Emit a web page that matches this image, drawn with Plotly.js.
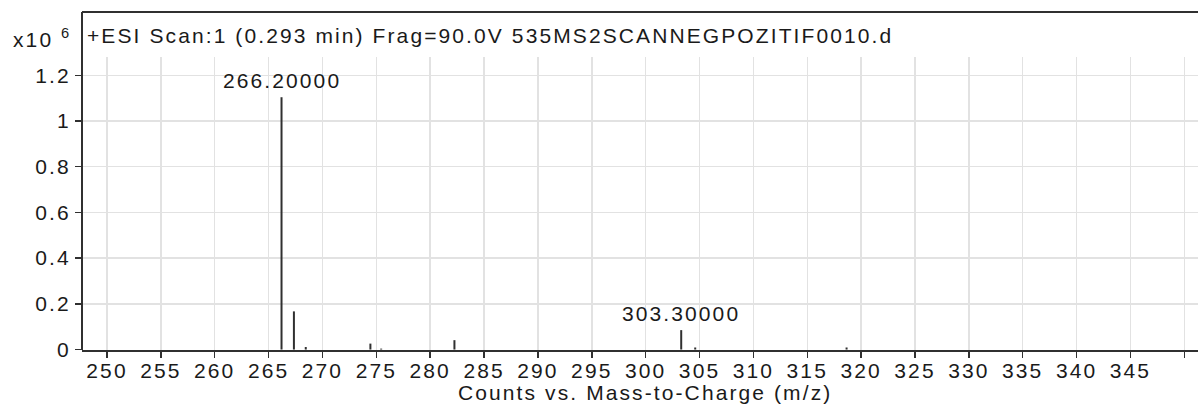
<!DOCTYPE html>
<html>
<head>
<meta charset="utf-8">
<script src="https://cdn.plot.ly/plotly-3.0.1.min.js"></script>
<style>
  html, body { margin: 0; padding: 0; background: #ffffff; }
  #chart { width: 1198px; height: 405px; }
  svg text { letter-spacing: 2.1px; }
</style>
</head>
<body>
<div id="chart"></div>
<script>
// m/z of each centroid peak
const mzValues = [266.2, 267.35, 268.45, 274.45, 275.45, 282.25, 303.3, 304.6, 318.65];
// abundance in counts x 10^6
const countValues = [1.104, 0.167, 0.011, 0.026, 0.004, 0.041, 0.085, 0.009, 0.009];
// labelled peaks
const labelledMz = [266.2, 303.3];
const labelledCounts = [1.104, 0.085];
const labelTexts = ["266.20000", "303.30000"];
// axis ticks
const xTickValues = [250, 255, 260, 265, 270, 275, 280, 285, 290, 295, 300, 305, 310, 315, 320, 325, 330, 335, 340, 345];
const xTickLabels = ["250", "255", "260", "265", "270", "275", "280", "285", "290", "295", "300", "305", "310", "315", "320", "325", "330", "335", "340", "345"];
const xUnlabelledTicks = [350];
const yTickValues = [0, 0.2, 0.4, 0.6, 0.8, 1, 1.2];
const yTickLabels = ["0", "0.2", "0.4", "0.6", "0.8", "1", "1.2"];
const chartTitle = "+ESI Scan:1 (0.293 min) Frag=90.0V 535MS2SCANNEGPOZITIF0010.d";
const xTitle = "Counts vs. Mass-to-Charge (m/z)";
const yScaleText = "x10 <sup>6</sup>";

const FONT = "Liberation Sans, Arial, sans-serif";
const FS = 21;
const TXT = "#1a1a1a";
const LINE = "#303030";
const GRID = "#e2e2e2";

// build stick segments
const sx = [], sy = [];
mzValues.forEach((m, i) => { sx.push(m, m, null); sy.push(0, countValues[i], null); });

const traces = [{
  type: "scatter", mode: "lines", x: sx, y: sy,
  line: { color: LINE, width: 2 }, hoverinfo: "skip", showlegend: false, cliponaxis: false
}];

const annotations = labelledMz.map((m, i) => ({
  x: m, y: labelledCounts[i], xref: "x", yref: "y",
  text: labelTexts[i], showarrow: false, xanchor: "center", yanchor: "bottom", yshift: 3,
  font: { family: FONT, size: FS, color: TXT }
}));

// plot area: left 82, right 1198, top 57, bottom 350
const plotTop = 57, plotBottom = 350, plotH = plotBottom - plotTop;
const pY = px => (plotBottom - px) / plotH;

annotations.push({
  x: 0.003, y: pY(35), xref: "paper", yref: "paper", xanchor: "left", yanchor: "middle",
  text: chartTitle, showarrow: false, font: { family: FONT, size: FS, color: TXT }
});
annotations.push({
  x: 0.5045, y: pY(392), xref: "paper", yref: "paper", xanchor: "center", yanchor: "middle",
  text: xTitle, showarrow: false, font: { family: FONT, size: FS, color: TXT }
});
annotations.push({
  x: -0.008, y: pY(38), xref: "paper", yref: "paper", xanchor: "right", yanchor: "middle",
  text: yScaleText, showarrow: false, font: { family: FONT, size: FS, color: TXT }
});

const shapes = [
  { type: "line", xref: "paper", yref: "paper", x0: 0, x1: 1, y0: pY(12), y1: pY(12), line: { color: LINE, width: 2 } },
  { type: "line", xref: "paper", yref: "paper", x0: 0, x1: 0, y0: 0, y1: pY(12), line: { color: LINE, width: 2 } }
];

const layout = {
  width: 1198, height: 405,
  margin: { l: 82, r: 0, t: plotTop, b: 405 - plotBottom },
  paper_bgcolor: "#ffffff", plot_bgcolor: "#ffffff",
  showlegend: false,
  font: { family: FONT, size: FS, color: TXT },
  xaxis: {
    range: [247.68, 351.27], tickmode: "array", tickvals: xTickValues, ticktext: xTickLabels,
    showgrid: true, gridcolor: GRID, gridwidth: 1.5,
    showline: true, linecolor: LINE, linewidth: 2,
    ticks: "outside", ticklen: 6, tickwidth: 1.5, tickcolor: LINE,
    ticklabelstandoff: -5,
    tickfont: { family: FONT, size: FS, color: TXT },
    minor: { tickmode: "array", tickvals: xUnlabelledTicks, ticks: "outside", ticklen: 6, tickwidth: 1.5, tickcolor: LINE, showgrid: true, gridcolor: GRID, gridwidth: 1.5 },
    zeroline: false, fixedrange: true
  },
  yaxis: {
    range: [-0.002, 1.28], tickmode: "array", tickvals: yTickValues, ticktext: yTickLabels,
    showgrid: true, gridcolor: GRID, gridwidth: 1.5,
    showline: false,
    ticks: "outside", ticklen: 6, tickwidth: 1.5, tickcolor: LINE,
    tickfont: { family: FONT, size: FS, color: TXT },
    zeroline: false, fixedrange: true
  },
  annotations: annotations,
  shapes: shapes
};

Plotly.newPlot("chart", traces, layout, { displayModeBar: false, staticPlot: true });
</script>
</body>
</html>
